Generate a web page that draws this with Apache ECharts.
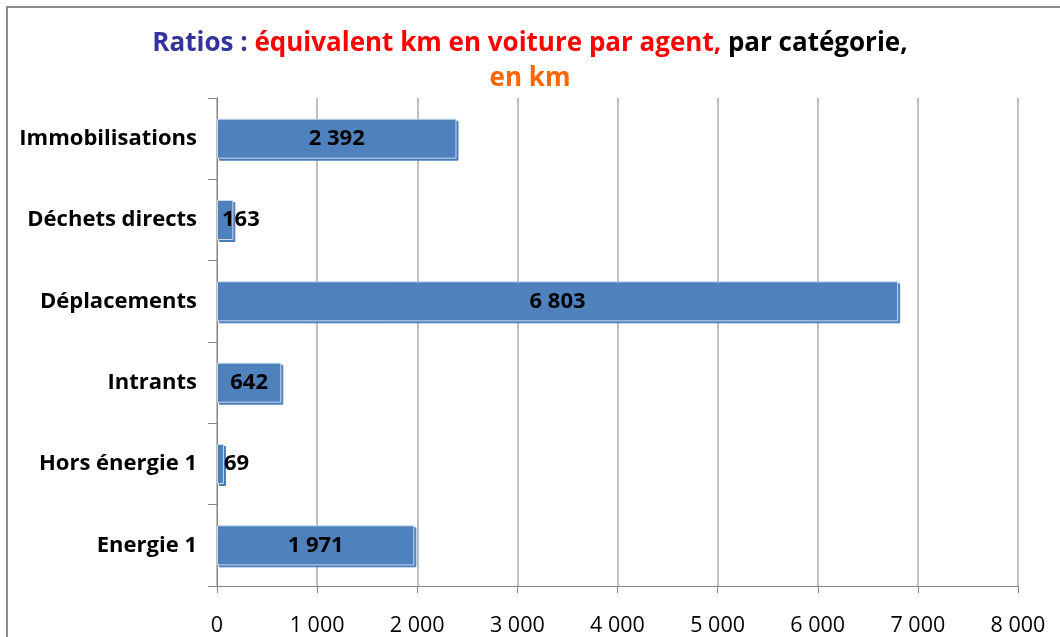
<!DOCTYPE html>
<html>
<head>
<meta charset="utf-8">
<script src="https://cdn.jsdelivr.net/npm/echarts@6/dist/echarts.min.js"></script>
<style>
	html, body { margin: 0; padding: 0; background: #fff; }
	#main { width: 1060px; height: 637px; }
</style>
</head>
<body>
<div id="main"></div>
<script>
// categories from bottom to top (category axis starts at the bottom)
var categories = ['Energie 1', 'Hors énergie 1', 'Intrants', 'Déplacements', 'Déchets directs', 'Immobilisations'];
var values = [1971, 69, 642, 6803, 163, 2392];
var tickValues = [0, 1000, 2000, 3000, 4000, 5000, 6000, 7000, 8000];

var fontName = '"Open Sans", "Liberation Sans", sans-serif';

function fmt(v) {
	return String(v).replace(/\B(?=(\d{3})+(?!\d))/g, ' ');
}

var chart = echarts.init(document.getElementById('main'));

var barData = values.map(function(v) {
	var small = v < 300;
	return {
		value: v,
		label: small ? { position: 'insideLeft', offset: [v < 100 ? 2 : 0, 0] } : { position: 'inside' }
	};
});

var titleFont = { fontSize: 26, fontWeight: 'bold', fontFamily: fontName, lineHeight: 35 };

var option = {
	animation: false,
	backgroundColor: '#fff',
	title: {
		left: 'center',
		top: 21,
		text: '{a|Ratios : }{b|équivalent km en voiture par agent, }{c|par catégorie,}\n{d|en km}',
		textStyle: {
			rich: {
				a: Object.assign({ color: '#333399' }, titleFont),
				b: Object.assign({ color: '#ff0000' }, titleFont),
				c: Object.assign({ color: '#000000' }, titleFont),
				d: Object.assign({ color: '#ff6600' }, titleFont)
			}
		}
	},
	grid: {
		left: 217,
		right: 42,
		top: 98,
		bottom: 47
	},
	xAxis: {
		type: 'value',
		min: tickValues[0],
		max: tickValues[tickValues.length - 1],
		interval: 1000,
		axisLine: { show: true, lineStyle: { color: '#868686', width: 1 } },
		axisTick: { show: true, length: 7, lineStyle: { color: '#868686' } },
		axisLabel: {
			margin: 29,
			color: '#000',
			fontSize: 21.5,
			fontFamily: fontName,
			formatter: function(v) { return fmt(v); }
		},
		splitLine: { show: true, lineStyle: { color: '#bfbfbf', width: 2 } }
	},
	yAxis: {
		type: 'category',
		data: categories,
		axisLine: { show: true, lineStyle: { color: '#868686', width: 1 } },
		axisTick: { show: true, length: 9, lineStyle: { color: '#868686' } },
		axisLabel: {
			margin: 20,
			color: '#000',
			fontSize: 22,
			fontWeight: 'bold',
			fontFamily: fontName,
			padding: [4, 0, 0, 0]
		}
	},
	series: [{
		type: 'bar',
		barWidth: 40,
		data: barData,
		itemStyle: {
			color: '#4f81bd',
			borderColor: '#c6d9f1',
			borderWidth: 1,
			shadowColor: '#4a7ebb',
			shadowBlur: 0,
			shadowOffsetX: 2,
			shadowOffsetY: 2
		},
		label: {
			show: true,
			color: '#000',
			fontSize: 22,
			fontWeight: 'bold',
			fontFamily: fontName,
			padding: [3, 0, 0, 0],
			formatter: function(p) { return fmt(p.value); }
		}
	}],
	graphic: [{
		type: 'rect',
		shape: { x: 7, y: 7, width: 1100, height: 700 },
		style: { fill: 'none', stroke: '#8c8c8c', lineWidth: 2 },
		silent: true
	}]
};

chart.setOption(option);
</script>
</body>
</html>
